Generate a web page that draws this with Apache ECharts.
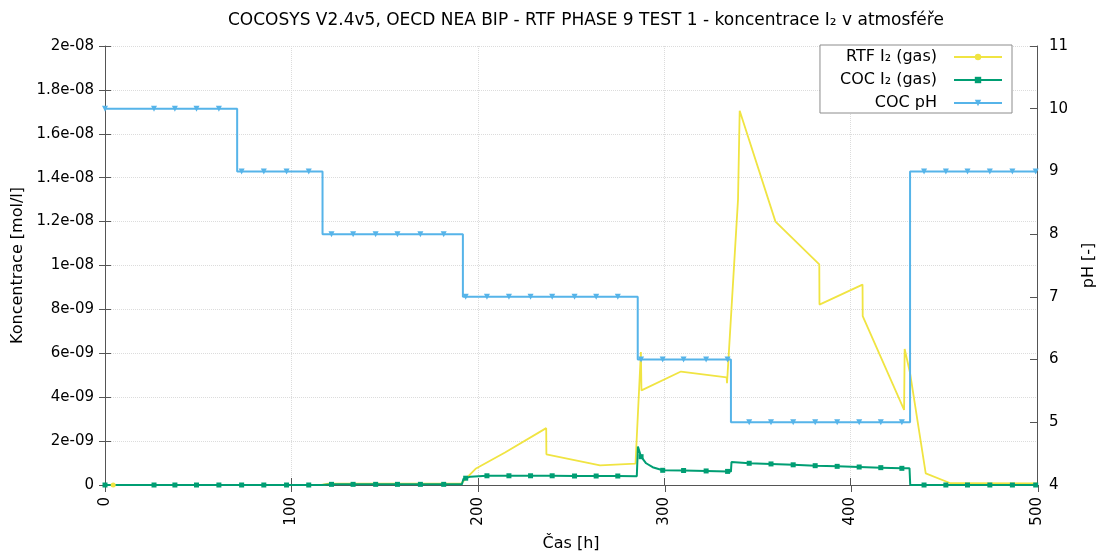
<!DOCTYPE html>
<html>
<head>
<meta charset="utf-8">
<script src="https://cdn.jsdelivr.net/npm/echarts@6/dist/echarts.min.js"></script>
<style>
  html, body { margin: 0; padding: 0; background: #ffffff; }
  #chart { width: 1105px; height: 558px; }
</style>
</head>
<body>
<div id="chart"></div>
<script>
// Sample times [h] at which the COCOSYS output points are marked
const markTimes = [0, 26.3, 37.5, 49.1, 61.1, 73.3, 85.2, 97.4, 109.3, 121.5, 133.1, 145.2,
  156.9, 169.2, 181.7, 193.5, 204.9, 216.7, 228.3, 239.9, 251.9, 263.5, 275.1, 287.6, 299.2,
  310.4, 322.5, 334.0, 345.6, 357.3, 369.2, 381.0, 392.8, 404.6, 416.2, 427.5, 439.4, 451.1,
  462.7, 474.7, 486.8, 499.3];

// COC pH: piecewise constant levels between the step times [h]
const phStepTimes = [0, 70.9, 116.7, 192.0, 285.8, 335.8, 431.9, 500];
const phLevels = [10, 9, 8, 7, 6, 5, 9];

// COC I2 (gas) concentration [mol/l]
const cocTime = [0, 26.3, 37.5, 49.1, 61.1, 73.3, 85.2, 97.4, 109.3, 116.7, 121.5, 133.1,
  145.2, 156.9, 169.2, 181.7, 191.5, 192.3, 193.5, 196.0, 204.9, 216.7, 228.3, 239.9, 251.9,
  263.5, 275.1, 285.3, 285.9, 287.6, 290.3, 293.8, 299.2, 310.4, 322.5, 334.0, 335.8, 336.1,
  345.6, 357.3, 369.2, 381.0, 392.8, 404.6, 416.2, 427.5, 431.6, 432.0, 439.4, 451.1, 462.7,
  474.7, 486.8, 499.3, 500];
const cocValue = [0, 0, 0, 0, 0, 0, 0, 0, 0, 0, 3e-11, 3e-11,
  3e-11, 3e-11, 3e-11, 3e-11, 3e-11, 2.8e-10, 3.1e-10, 3.8e-10, 4.2e-10, 4.2e-10, 4.2e-10, 4.2e-10, 4.1e-10,
  4.1e-10, 4.1e-10, 4.0e-10, 1.75e-9, 1.29e-9, 9.9e-10, 8.1e-10, 6.7e-10, 6.6e-10, 6.4e-10, 6.2e-10, 6.1e-10, 1.05e-9,
  9.9e-10, 9.6e-10, 9.2e-10, 8.8e-10, 8.5e-10, 8.2e-10, 7.9e-10, 7.6e-10, 7.6e-10, 0, 0, 0, 0,
  0, 0, 0, 0];

// RTF I2 (gas) measured concentration [mol/l]
const rtfTime = [4.4, 116.0, 120.0, 191.0, 198.8, 214.6, 215.0, 236.7, 236.8, 265.6, 266.1,
  284.6, 287.5, 287.8, 309.0, 333.5, 333.7, 339.6, 340.5, 359.7, 383.2, 383.3, 406.4, 406.5,
  428.7, 429.0, 431.9, 440.3, 453.6, 500];
const rtfValue = [0, 0, 6e-11, 6e-11, 7.4e-10, 1.48e-9, 1.55e-9, 2.59e-9, 1.40e-9, 8.9e-10, 8.4e-10,
  9.7e-10, 6.06e-9, 4.31e-9, 5.17e-9, 4.90e-9, 4.64e-9, 1.30e-8, 1.705e-8, 1.20e-8, 1.005e-8, 8.22e-9, 9.13e-9, 7.69e-9,
  3.42e-9, 6.20e-9, 5.10e-9, 5.3e-10, 8e-11, 7e-11];
const rtfMarkTimes = [4.4];

// Axis tick labels
const yTickLabels = ['0', '2e-09', '4e-09', '6e-09', '8e-09', '1e-08', '1.2e-08', '1.4e-08', '1.6e-08', '1.8e-08', '2e-08'];
const xTickLabels = ['0', '100', '200', '300', '400', '500'];
const seriesNames = ['RTF I\u2082 (gas)', 'COC I\u2082 (gas)', 'COC pH'];
const titleText = 'COCOSYS V2.4v5, OECD NEA BIP - RTF PHASE 9 TEST 1 - koncentrace I\u2082 v atmosféře';

const FONT = 'DejaVu Sans';
const AXIS_COLOR = '#555555';
const GRID_COLOR = '#dcdcdc';
const PLOT = { left: 105, right: 67, top: 46, bottom: 73 };

// A point keeps the series marker only if its time is a marked sample time
function point(t, v, marks) {
  return marks.has(t) ? { value: [t, v] } : { value: [t, v], symbol: 'none' };
}

const markSet = new Set(markTimes);
const rtfMarkSet = new Set(rtfMarkTimes);

const rtfData = rtfTime.map((t, i) => point(t, rtfValue[i], rtfMarkSet));
const cocData = cocTime.map((t, i) => point(t, cocValue[i], markSet));

// Step line for pH: corner points at each step plus the marked samples on each level
const phData = [];
phLevels.forEach((lvl, i) => {
  const t0 = phStepTimes[i];
  const t1 = phStepTimes[i + 1];
  phData.push(point(t0, lvl, markSet));
  markTimes.filter(t => t > t0 && t < t1).forEach(t => phData.push(point(t, lvl, markSet)));
  phData.push({ value: [t1, lvl], symbol: 'none' });
});

const chart = echarts.init(document.getElementById('chart'), null, { renderer: 'canvas' });

const tickFont = { fontFamily: FONT, fontSize: 15, color: '#000000' };
const nameFont = { fontFamily: FONT, fontSize: 16, color: '#000000' };

chart.setOption({
  animation: false,
  backgroundColor: '#ffffff',
  title: {
    text: titleText,
    left: 223,
    top: 7,
    textStyle: { fontFamily: FONT, fontSize: 17, fontWeight: 'normal', color: '#000000' }
  },
  legend: {
    data: seriesNames,
    orient: 'vertical',
    right: 93,
    top: 45,
    align: 'right',
    itemWidth: 48,
    itemHeight: 8,
    itemGap: 7,
    padding: [4, 9, 2, 20],
    borderColor: '#8c8c8c',
    borderWidth: 1,
    borderRadius: 0,
    backgroundColor: '#ffffff',
    textStyle: Object.assign({ lineHeight: 16, padding: [0, 12, 0, 0] }, nameFont)
  },
  // grid 0 holds the data; grid 1 overlays it to carry the mirrored border ticks
  grid: [Object.assign({}, PLOT), Object.assign({}, PLOT)],
  xAxis: [
    {
      type: 'value',
      gridIndex: 0,
      min: 0, max: 500, interval: 100,
      name: 'Čas [h]',
      nameLocation: 'middle',
      nameGap: 51,
      nameTextStyle: nameFont,
      axisLine: { show: true, lineStyle: { color: AXIS_COLOR, width: 1 } },
      axisTick: { show: true, inside: true, length: 7, lineStyle: { color: AXIS_COLOR } },
      axisLabel: Object.assign({
        rotate: 90, margin: 12,
        formatter: v => xTickLabels[Math.round(v / 100)]
      }, tickFont),
      splitLine: { show: true, lineStyle: { type: 'dotted', color: GRID_COLOR, width: 1 } }
    },
    {
      type: 'value',
      gridIndex: 1,
      position: 'top',
      min: 0, max: 500, interval: 100,
      axisLine: { show: false },
      axisTick: { show: true, inside: true, length: 7, lineStyle: { color: AXIS_COLOR } },
      axisLabel: { show: false },
      splitLine: { show: false }
    }
  ],
  yAxis: [
    {
      type: 'value',
      gridIndex: 0,
      position: 'left',
      min: 0, max: 2e-8, interval: 2e-9,
      name: 'Koncentrace [mol/l]',
      nameLocation: 'middle',
      nameRotate: 90,
      nameGap: 78,
      nameTextStyle: nameFont,
      axisLine: { show: true, lineStyle: { color: AXIS_COLOR, width: 1 } },
      axisTick: { show: true, inside: true, length: 6, lineStyle: { color: AXIS_COLOR } },
      axisLabel: Object.assign({
        margin: 11,
        formatter: v => yTickLabels[Math.round(v / 2e-9)]
      }, tickFont),
      splitLine: { show: true, lineStyle: { type: 'dotted', color: GRID_COLOR, width: 1 } }
    },
    {
      type: 'value',
      gridIndex: 0,
      position: 'right',
      min: 4, max: 11, interval: 1,
      name: 'pH [-]',
      nameLocation: 'middle',
      nameRotate: 90,
      nameGap: 44,
      nameTextStyle: nameFont,
      axisLine: { show: true, lineStyle: { color: AXIS_COLOR, width: 1 } },
      axisTick: { show: true, inside: true, length: 7, lineStyle: { color: AXIS_COLOR } },
      axisLabel: Object.assign({ margin: 12 }, tickFont),
      splitLine: { show: false }
    },
    {
      // concentration ticks mirrored on the right border
      type: 'value',
      gridIndex: 1,
      position: 'right',
      min: 0, max: 2e-8, interval: 2e-9,
      axisLine: { show: false },
      axisTick: { show: true, inside: true, length: 6, lineStyle: { color: AXIS_COLOR } },
      axisLabel: { show: false },
      splitLine: { show: false }
    }
  ],
  series: [
    {
      name: seriesNames[0],
      type: 'line',
      xAxisIndex: 0,
      yAxisIndex: 0,
      data: rtfData,
      symbol: 'circle',
      symbolSize: 5,
      showSymbol: true,
      lineStyle: { color: '#f0e442', width: 1.8 },
      itemStyle: { color: '#f0e442' },
      emphasis: { disabled: true },
      silent: true
    },
    {
      name: seriesNames[1],
      type: 'line',
      xAxisIndex: 0,
      yAxisIndex: 0,
      data: cocData,
      symbol: 'rect',
      symbolSize: 5,
      showSymbol: true,
      lineStyle: { color: '#009e73', width: 2 },
      itemStyle: { color: '#009e73' },
      emphasis: { disabled: true },
      silent: true
    },
    {
      name: seriesNames[2],
      type: 'line',
      xAxisIndex: 0,
      yAxisIndex: 1,
      data: phData,
      symbol: 'triangle',
      symbolRotate: 180,
      symbolSize: 6,
      showSymbol: true,
      lineStyle: { color: '#56b4e9', width: 2 },
      itemStyle: { color: '#56b4e9' },
      emphasis: { disabled: true },
      silent: true
    }
  ]
});
</script>
</body>
</html>
